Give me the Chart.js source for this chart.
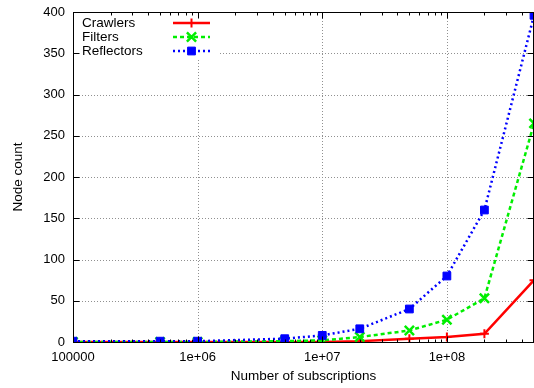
<!DOCTYPE html>
<html>
<head>
<meta charset="utf-8">
<script src="https://cdn.jsdelivr.net/npm/chart.js@4/dist/chart.umd.min.js"></script>
<style>
  html, body { margin: 0; padding: 0; background: #fff; }
</style>
</head>
<body>
<canvas id="chart" width="534" height="388"></canvas>
<script>
// data
const subscriptions = [1e5, 5e5, 1e6, 5e6, 1e7, 2e7, 5e7, 1e8, 2e8, 5e8];
const crawlers   = [0, 0, 0, 0, 0, 1, 4, 6, 10, 75];
const filters    = [0, 0, 0, 1, 2, 6, 14, 27, 53, 265];
const reflectors = [1, 1, 1, 4, 8, 16, 40, 80, 160, 396];

const xMajor = [1e5, 1e6, 1e7, 1e8];
const yTicks = [0, 50, 100, 150, 200, 250, 300, 350, 400];

const FONT = "'Liberation Sans', Arial, sans-serif";

function pts(vals) {
  return subscriptions.map((s, i) => ({ x: s, y: vals[i] }));
}

function xLabel(v) {
  if (v === 1e5) return '100000';
  const e = Math.round(Math.log10(v));
  return '1e+' + String(e).padStart(2, '0');
}

function noPad(scale) {
  scale.paddingLeft = scale.paddingRight = scale.paddingTop = scale.paddingBottom = 0;
}

// gnuplot-ish frame: dotted grid, key box, border with inward ticks
const gnuplotFrame = {
  id: 'gnuplotFrame',
  beforeDatasetsDraw(chart) {
    const { ctx, chartArea: a, scales } = chart;
    ctx.save();
    ctx.strokeStyle = '#909090';
    ctx.lineWidth = 1;
    ctx.setLineDash([1, 2]);
    yTicks.slice(1, -1).forEach(v => {
      const py = Math.round(scales.y.getPixelForValue(v)) + 0.5;
      ctx.beginPath(); ctx.moveTo(a.left, py); ctx.lineTo(a.right, py); ctx.stroke();
    });
    xMajor.slice(1).forEach(v => {
      const px = Math.round(scales.x.getPixelForValue(v)) + 0.5;
      ctx.beginPath(); ctx.moveTo(px, a.top); ctx.lineTo(px, a.bottom); ctx.stroke();
    });
    ctx.setLineDash([]);

    // key
    ctx.fillStyle = '#fff';
    ctx.fillRect(a.left + 1, a.top + 1, 145, 46);
    ctx.font = '13.5px ' + FONT;
    ctx.textBaseline = 'middle';
    ctx.textAlign = 'left';
    chart.data.datasets.forEach((ds, i) => {
      const ly = a.top + 11 + i * 14;
      ctx.fillStyle = '#000';
      ctx.fillText(ds.label, a.left + 9, ly + 0.5);
      ctx.strokeStyle = ds.borderColor;
      ctx.lineWidth = ds.borderWidth;
      ctx.setLineDash(ds.borderDash || []);
      ctx.beginPath(); ctx.moveTo(a.left + 100, ly); ctx.lineTo(a.left + 137, ly); ctx.stroke();
      ctx.setLineDash([]);
      ctx.fillStyle = ds.borderColor;
      ctx.lineWidth = ds.pointBorderWidth;
      Chart.helpers.drawPoint(ctx, {
        pointStyle: ds.pointStyle, radius: ds.pointRadius,
        borderWidth: ds.pointBorderWidth, rotation: 0
      }, a.left + 118.5, ly);
    });
    ctx.restore();
  },
  afterDatasetsDraw(chart) {
    const { ctx, chartArea: a, scales } = chart;
    ctx.save();
    ctx.strokeStyle = '#000';
    ctx.lineWidth = 1;
    const L = Math.round(a.left) + 0.5, R = Math.round(a.right) - 0.5;
    const T = Math.round(a.top) + 0.5, B = Math.round(a.bottom) + 0.5;
    ctx.strokeRect(L, T, R - L, B - T);
    ctx.beginPath();
    yTicks.forEach(v => {
      const py = Math.round(scales.y.getPixelForValue(v)) + 0.5;
      ctx.moveTo(L, py); ctx.lineTo(L + 6, py);
      ctx.moveTo(R, py); ctx.lineTo(R - 6, py);
    });
    for (let e = 5; e <= 8; e++) {
      for (let m = 1; m <= 9; m++) {
        const v = m * Math.pow(10, e);
        if (v > 5e8) continue;
        const px = Math.round(scales.x.getPixelForValue(v)) + 0.5;
        const len = m === 1 ? 6 : 3;
        ctx.moveTo(px, B); ctx.lineTo(px, B - len);
        ctx.moveTo(px, T); ctx.lineTo(px, T + len);
      }
    }
    ctx.stroke();
    ctx.restore();
  }
};

new Chart(document.getElementById('chart'), {
  type: 'line',
  data: {
    datasets: [
      {
        label: 'Crawlers', data: pts(crawlers), order: 3,
        borderColor: '#ff0000', backgroundColor: '#ff0000',
        borderWidth: 2.5, pointStyle: 'cross', pointRadius: 4.5, pointBorderWidth: 2
      },
      {
        label: 'Filters', data: pts(filters), order: 2,
        borderColor: '#00ee00', backgroundColor: '#00ee00',
        borderWidth: 2.5, borderDash: [4, 3], pointStyle: 'crossRot', pointRadius: 6.5, pointBorderWidth: 2.5
      },
      {
        label: 'Reflectors', data: pts(reflectors), order: 1,
        borderColor: '#0000ff', backgroundColor: '#0000ff',
        borderWidth: 2.5, borderDash: [2, 3], pointStyle: 'rect', pointRadius: 5.5, pointBorderWidth: 1
      }
    ]
  },
  options: {
    responsive: false,
    animation: false,
    devicePixelRatio: 1,
    layout: { autoPadding: false, padding: { top: 12, right: 0, left: 0, bottom: 0 } },
    plugins: { legend: { display: false }, tooltip: { enabled: false } },
    elements: { line: { tension: 0 } },
    scales: {
      x: {
        type: 'logarithmic', min: 1e5, max: 5e8,
        afterBuildTicks(scale) { scale.ticks = xMajor.map(v => ({ value: v })); },
        afterFit(scale) { scale.height = 46; noPad(scale); },
        grid: { display: false, drawTicks: false },
        border: { display: false },
        ticks: {
          autoSkip: false, maxRotation: 0, padding: 8, color: '#000',
          font: { size: 13, family: FONT },
          callback: v => xLabel(v)
        },
        title: {
          display: true, text: 'Number of subscriptions', color: '#000',
          font: { size: 13.5, family: FONT }, padding: { top: 0, bottom: 4 }
        }
      },
      y: {
        min: 0, max: 400,
        afterBuildTicks(scale) { scale.ticks = yTicks.map(v => ({ value: v })); },
        afterFit(scale) { scale.width = 73; noPad(scale); },
        grid: { display: false, drawTicks: false },
        border: { display: false },
        ticks: {
          padding: 8, color: '#000',
          font: { size: 13, family: FONT }
        },
        title: {
          display: true, text: 'Node count', color: '#000',
          font: { size: 13.5, family: FONT }, padding: { top: 10, bottom: 0 }
        }
      }
    }
  },
  plugins: [gnuplotFrame]
});
</script>
</body>
</html>
